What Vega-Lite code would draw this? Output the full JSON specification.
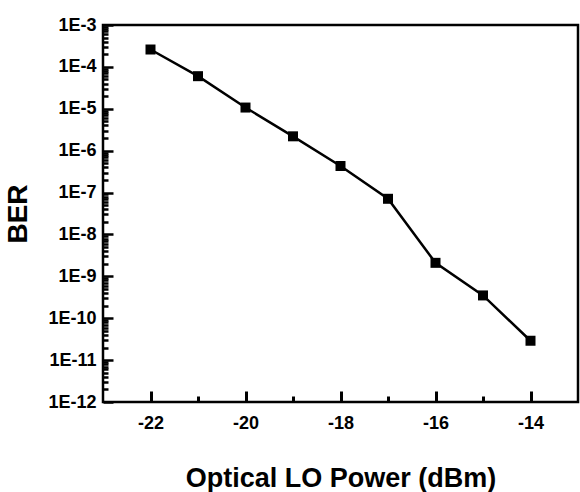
{
  "$schema": "https://vega.github.io/schema/vega-lite/v6.json",
  "autosize": "none",
  "width": 475,
  "height": 377,
  "padding": {"left": 103, "top": 25, "right": 2, "bottom": 90},
  "background": "white",
  "config": {
    "view": {"stroke": "black", "strokeWidth": 2.5}
  },
  "data": {
    "values": [
      {"power": -22, "ber": 2.6e-4},
      {"power": -21, "ber": 6.0e-5},
      {"power": -20, "ber": 1.07e-5},
      {"power": -19, "ber": 2.2e-6},
      {"power": -18, "ber": 4.3e-7},
      {"power": -17, "ber": 7.1e-8},
      {"power": -16, "ber": 2.1e-9},
      {"power": -15, "ber": 3.5e-10},
      {"power": -14, "ber": 2.9e-11}
    ]
  },
  "mark": {"type": "line", "color": "black", "strokeWidth": 2.5, "point": {"shape": "square", "filled": true, "color": "black", "size": 100, "opacity": 1}},
  "encoding": {
    "x": {
      "field": "power", "type": "quantitative",
      "scale": {"domain": [-23, -13], "nice": false, "zero": false},
      "axis": {
        "orient": "bottom",
        "values": [-22, -21, -20, -19, -18, -17, -16, -15, -14],
        "labelExpr": "datum.value % 2 == 0 ? '' + datum.value : ''",
        "labelOverlap": false,
        "labelFlush": false,
        "labelFont": "Liberation Sans",
        "labelFontWeight": "bold",
        "labelColor": "black",
        "labelFontSize": 18,
        "labelPadding": 23,
        "tickColor": "black",
        "tickWidth": 3,
        "tickSize": -11,
        "tickDash": {"condition": {"test": "datum.value % 2 == 0", "value": []}, "value": [6, 100]},
        "domain": false,
        "grid": false,
        "title": "Optical LO Power (dBm)",
        "titleFont": "Liberation Sans",
        "titleFontWeight": "bold",
        "titleColor": "black",
        "titleFontSize": 27,
        "titlePadding": 33
      }
    },
    "y": {
      "field": "ber", "type": "quantitative",
      "scale": {"type": "log", "domain": [1e-12, 1e-3], "nice": false},
      "axis": {
        "orient": "left",
        "values": [1e-12,2e-12,3e-12,4e-12,5e-12,6e-12,7e-12,8e-12,9e-12,
                   1e-11,2e-11,3e-11,4e-11,5e-11,6e-11,7e-11,8e-11,9e-11,
                   1e-10,2e-10,3e-10,4e-10,5e-10,6e-10,7e-10,8e-10,9e-10,
                   1e-9,2e-9,3e-9,4e-9,5e-9,6e-9,7e-9,8e-9,9e-9,
                   1e-8,2e-8,3e-8,4e-8,5e-8,6e-8,7e-8,8e-8,9e-8,
                   1e-7,2e-7,3e-7,4e-7,5e-7,6e-7,7e-7,8e-7,9e-7,
                   1e-6,2e-6,3e-6,4e-6,5e-6,6e-6,7e-6,8e-6,9e-6,
                   1e-5,2e-5,3e-5,4e-5,5e-5,6e-5,7e-5,8e-5,9e-5,
                   1e-4,2e-4,3e-4,4e-4,5e-4,6e-4,7e-4,8e-4,9e-4,
                   1e-3],
        "labelExpr": "abs(log(datum.value) / LN10 - round(log(datum.value) / LN10)) < 0.001 ? '1E' + round(log(datum.value) / LN10) : ''",
        "labelOverlap": false,
        "labelFlush": false,
        "labelFont": "Liberation Sans",
        "labelFontWeight": "bold",
        "labelColor": "black",
        "labelFontSize": 18,
        "labelPadding": 17,
        "tickColor": "black",
        "tickWidth": 2.5,
        "tickSize": -10,
        "tickDash": {"condition": {"test": "abs(log(datum.value) / LN10 - round(log(datum.value) / LN10)) < 0.001", "value": []}, "value": [5, 100]},
        "domain": false,
        "grid": false,
        "title": "BER",
        "titleFont": "Liberation Sans",
        "titleFontWeight": "bold",
        "titleColor": "black",
        "titleFontSize": 28,
        "titlePadding": 15
      }
    }
  }
}
